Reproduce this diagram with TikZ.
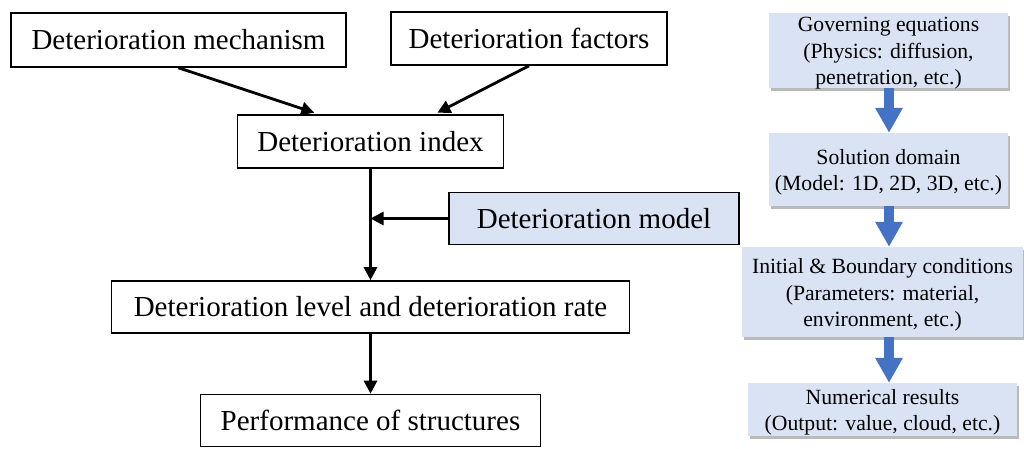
\documentclass[tikz,border=0pt]{standalone}
\usepackage{fontspec}
\setmainfont{Liberation Serif}
\usetikzlibrary{arrows.meta,shadows,calc}
\definecolor{boxblue}{HTML}{DAE3F3}
\definecolor{arrowblue}{HTML}{4472C4}
\tikzset{
  flowbox/.style={draw=black, line width=1.6pt, inner sep=0pt, align=center,
    font=\fontsize{29}{34}\selectfont},
  stepnote/.style={fill=boxblue, inner sep=0pt,
    drop shadow={shadow xshift=2pt, shadow yshift=-2.5pt, opacity=0.45, fill=black!60}},
  notetext/.style={inner sep=0pt, align=center, yshift=-3pt,
    font=\fontsize{21.7}{26.5}\selectfont},
  flowarrow/.style={line width=2.8pt, -{Triangle[length=13pt,width=13pt]}},
  blockarrow/.style={draw=arrowblue, line width=9.5pt, -{Triangle[length=25pt,width=26pt]}}
}
\begin{document}
\begin{tikzpicture}[x=1pt, y=-1pt]
\useasboundingbox (0,0) rectangle (1024,448);

% left-hand flow chart
\node[flowbox, minimum width=335pt, minimum height=54pt] (mech) at (178.5,40) {Deterioration mechanism};
\node[flowbox, minimum width=276pt, minimum height=53pt] (fact) at (529,38.5) {Deterioration factors};
\node[flowbox, minimum width=266pt, minimum height=53pt] (idx) at (370.5,141.5) {Deterioration index};
\node[flowbox, fill=boxblue, minimum width=290pt, minimum height=52pt] (model) at (594,218.5) {Deterioration model};
\node[flowbox, minimum width=518pt, minimum height=52pt] (level) at (370.5,307) {Deterioration level and deterioration rate};
\node[flowbox, minimum width=340pt, minimum height=52pt] (perf) at (370.5,420.5) {Performance of structures};

\draw[flowarrow] (mech.south) -- ($(idx.north west)!0.29!(idx.north east)+(0,-1.5)$);
\draw[flowarrow] (fact.south) -- ($(idx.north west)!0.75!(idx.north east)+(0,-1.5)$);
\draw[flowarrow] (idx.south) -- (level.north);
\draw[flowarrow] (model.west) -- (model.west -| idx.south);
\draw[flowarrow] (level.south) -- (perf.north);

% right-hand solution steps
\node[stepnote, minimum width=239pt, minimum height=75pt,
  label={[notetext]center:{Governing equations\\(Physics: diffusion,\\penetration, etc.)}}]
  (gov) at (888.5,50.5) {};
\node[stepnote, minimum width=239pt, minimum height=73pt,
  label={[notetext]center:{Solution domain\\(Model: 1D, 2D, 3D, etc.)}}]
  (dom) at (888.5,169.5) {};
\node[stepnote, minimum width=281pt, minimum height=90pt,
  label={[notetext]center:{Initial \& Boundary conditions\\(Parameters: material,\\environment, etc.)}}]
  (cond) at (882.5,292) {};
\node[stepnote, minimum width=269pt, minimum height=53pt,
  label={[notetext]center:{Numerical results\\(Output: value, cloud, etc.)}}]
  (num) at (882.5,409.5) {};

\draw[blockarrow] (gov.south -| 889,0) -- (dom.north -| 889,0);
\draw[blockarrow] (dom.south -| 889,0) -- (cond.north -| 889,0);
\draw[blockarrow] (cond.south -| 889,0) -- (num.north -| 889,0);
\end{tikzpicture}
\end{document}
